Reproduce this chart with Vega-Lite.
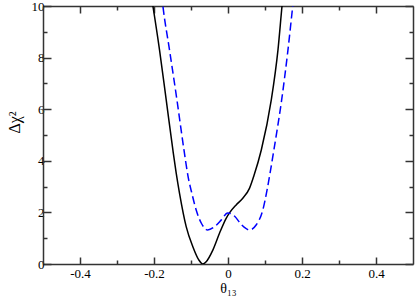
{
  "$schema": "https://vega.github.io/schema/vega-lite/v6.json",
  "width": 370,
  "height": 258,
  "autosize": {"type": "none"},
  "padding": {"left": 43, "top": 6, "right": 2, "bottom": 38},
  "background": "white",
  "config": {
    "view": {"stroke": null},
    "axis": {
      "labelFont": "Liberation Serif",
      "titleFont": "Liberation Serif",
      "labelFontSize": 13,
      "titleFontSize": 14,
      "titleFontWeight": "normal",
      "labelColor": "black",
      "titleColor": "black",
      "domainColor": "#333333",
      "domainWidth": 1.5,
      "tickColor": "#333333",
      "tickWidth": 1.5,
      "grid": false
    }
  },
  "data": {
    "values": [
      {"theta": -0.212, "chi2": 10.8, "series": "solid"},
      {"theta": -0.203, "chi2": 10.0, "series": "solid"},
      {"theta": -0.185, "chi2": 8.29, "series": "solid"},
      {"theta": -0.167, "chi2": 6.36, "series": "solid"},
      {"theta": -0.149, "chi2": 4.42, "series": "solid"},
      {"theta": -0.140, "chi2": 3.52, "series": "solid"},
      {"theta": -0.131, "chi2": 2.74, "series": "solid"},
      {"theta": -0.113, "chi2": 1.45, "series": "solid"},
      {"theta": -0.095, "chi2": 0.67, "series": "solid"},
      {"theta": -0.079, "chi2": 0.16, "series": "solid"},
      {"theta": -0.068, "chi2": 0.0, "series": "solid"},
      {"theta": -0.059, "chi2": 0.09, "series": "solid"},
      {"theta": -0.041, "chi2": 0.54, "series": "solid"},
      {"theta": -0.023, "chi2": 1.19, "series": "solid"},
      {"theta": -0.005, "chi2": 1.77, "series": "solid"},
      {"theta": 0.004, "chi2": 1.98, "series": "solid"},
      {"theta": 0.022, "chi2": 2.29, "series": "solid"},
      {"theta": 0.040, "chi2": 2.55, "series": "solid"},
      {"theta": 0.058, "chi2": 2.93, "series": "solid"},
      {"theta": 0.070, "chi2": 3.42, "series": "solid"},
      {"theta": 0.090, "chi2": 4.42, "series": "solid"},
      {"theta": 0.117, "chi2": 6.36, "series": "solid"},
      {"theta": 0.135, "chi2": 8.29, "series": "solid"},
      {"theta": 0.146, "chi2": 10.0, "series": "solid"},
      {"theta": 0.153, "chi2": 11.0, "series": "solid"},
      {"theta": -0.183, "chi2": 10.9, "series": "dashed"},
      {"theta": -0.176, "chi2": 10.0, "series": "dashed"},
      {"theta": -0.158, "chi2": 8.29, "series": "dashed"},
      {"theta": -0.138, "chi2": 6.36, "series": "dashed"},
      {"theta": -0.119, "chi2": 4.42, "series": "dashed"},
      {"theta": -0.108, "chi2": 3.4, "series": "dashed"},
      {"theta": -0.097, "chi2": 2.7, "series": "dashed"},
      {"theta": -0.086, "chi2": 2.09, "series": "dashed"},
      {"theta": -0.072, "chi2": 1.58, "series": "dashed"},
      {"theta": -0.055, "chi2": 1.32, "series": "dashed"},
      {"theta": -0.036, "chi2": 1.45, "series": "dashed"},
      {"theta": -0.018, "chi2": 1.71, "series": "dashed"},
      {"theta": -0.001, "chi2": 1.98, "series": "dashed"},
      {"theta": 0.018, "chi2": 1.85, "series": "dashed"},
      {"theta": 0.036, "chi2": 1.53, "series": "dashed"},
      {"theta": 0.058, "chi2": 1.32, "series": "dashed"},
      {"theta": 0.076, "chi2": 1.51, "series": "dashed"},
      {"theta": 0.094, "chi2": 2.09, "series": "dashed"},
      {"theta": 0.106, "chi2": 2.9, "series": "dashed"},
      {"theta": 0.114, "chi2": 3.55, "series": "dashed"},
      {"theta": 0.124, "chi2": 4.42, "series": "dashed"},
      {"theta": 0.145, "chi2": 6.36, "series": "dashed"},
      {"theta": 0.162, "chi2": 8.29, "series": "dashed"},
      {"theta": 0.175, "chi2": 10.0, "series": "dashed"},
      {"theta": 0.182, "chi2": 10.9, "series": "dashed"}
    ]
  },
  "layer": [
    {
      "transform": [{"filter": "datum.series == 'solid'"}],
      "mark": {"type": "line", "color": "black", "strokeWidth": 1.5, "clip": true, "interpolate": "monotone"},
      "encoding": {
        "x": {
          "field": "theta", "type": "quantitative",
          "scale": {"domain": [-0.5, 0.5], "nice": false, "zero": false},
          "axis": {
            "orient": "bottom",
            "title": "θ₁₃",
            "titlePadding": 1,
            "values": [-0.4, -0.3, -0.2, -0.1, 0, 0.1, 0.2, 0.3, 0.4],
            "labelExpr": "abs(round(datum.value*10)) % 2 == 0 ? (datum.value == 0 ? '0' : (datum.value < 0 ? '-' : '') + format(abs(datum.value), '.1f')) : ''",
            "tickSize": {"condition": {"test": "abs(round(datum.value*10)) % 2 == 0", "value": -7}, "value": -4},
            "labelPadding": 10
          }
        },
        "y": {
          "field": "chi2", "type": "quantitative",
          "scale": {"domain": [0, 10], "nice": false},
          "axis": {
            "orient": "left",
            "title": "Δχ²",
            "titleFontSize": 16,
            "titlePadding": 9,
            "titleY": 116,
            "values": [0, 1, 2, 3, 4, 5, 6, 7, 8, 9, 10],
            "labelExpr": "round(datum.value) % 2 == 0 ? format(datum.value, 'd') : ''",
            "tickSize": {"condition": {"test": "round(datum.value) % 2 == 0", "value": -8}, "value": -4},
            "labelPadding": 7
          }
        }
      }
    },
    {
      "transform": [{"filter": "datum.series == 'dashed'"}],
      "mark": {"type": "line", "color": "#0000ff", "strokeWidth": 1.5, "strokeDash": [8, 4], "clip": true, "interpolate": "monotone"},
      "encoding": {
        "x": {
          "field": "theta", "type": "quantitative",
          "axis": {
            "orient": "top",
            "title": null,
            "labels": false,
            "values": [-0.4, -0.3, -0.2, -0.1, 0, 0.1, 0.2, 0.3, 0.4],
            "tickSize": {"condition": {"test": "abs(round(datum.value*10)) % 2 == 0", "value": -7}, "value": -4}
          }
        },
        "y": {
          "field": "chi2", "type": "quantitative",
          "axis": {
            "orient": "right",
            "title": null,
            "labels": false,
            "values": [0, 1, 2, 3, 4, 5, 6, 7, 8, 9, 10],
            "tickSize": {"condition": {"test": "round(datum.value) % 2 == 0", "value": -8}, "value": -4}
          }
        }
      }
    }
  ],
  "resolve": {"axis": {"x": "independent", "y": "independent"}}
}
